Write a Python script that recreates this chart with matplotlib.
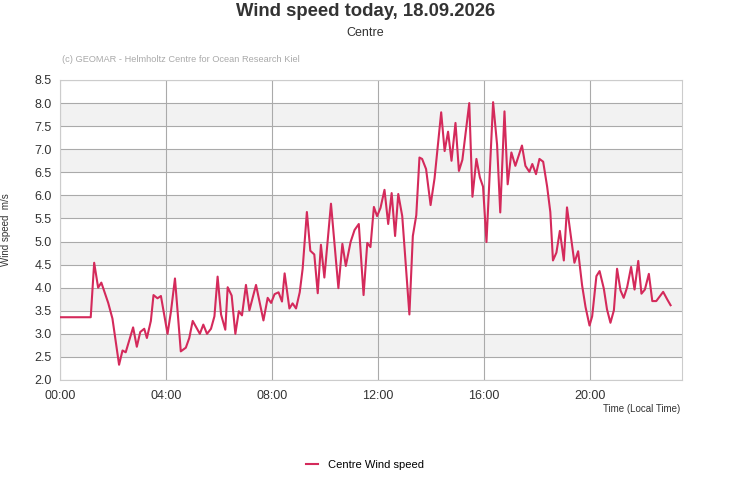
import numpy as np
import matplotlib
matplotlib.use('Agg')
import matplotlib.pyplot as plt
from matplotlib.ticker import FuncFormatter, MultipleLocator

plt.rcParams['font.family'] = ['Liberation Sans', 'DejaVu Sans']

# time of day in hours, wind speed in m/s
hours = [
	0.00, 1.16, 1.29, 1.44, 1.56, 1.82, 1.98, 2.23, 2.36, 2.48,
	2.76, 2.90, 3.03, 3.18, 3.28, 3.43, 3.53, 3.68, 3.81, 4.06,
	4.19, 4.34, 4.56, 4.75, 4.88, 5.01, 5.28, 5.41, 5.55, 5.70,
	5.83, 5.95, 6.08, 6.24, 6.33, 6.48, 6.62, 6.75, 6.87, 7.02,
	7.15, 7.40, 7.68, 7.84, 7.97, 8.10, 8.25, 8.38, 8.48, 8.66,
	8.78, 8.91, 9.05, 9.16, 9.32, 9.45, 9.60, 9.73, 9.85, 9.98,
	10.23, 10.51, 10.66, 10.79, 10.97, 11.12, 11.28, 11.46, 11.60, 11.72,
	11.85, 11.97, 12.10, 12.25, 12.39, 12.52, 12.65, 12.77, 12.92, 13.19,
	13.32, 13.45, 13.57, 13.67, 13.82, 13.99, 14.14, 14.39, 14.52, 14.65,
	14.78, 14.93, 15.06, 15.19, 15.45, 15.57, 15.72, 15.85, 15.97, 16.10,
	16.35, 16.50, 16.62, 16.78, 16.90, 17.04, 17.19, 17.44, 17.57, 17.72,
	17.83, 17.97, 18.10, 18.24, 18.39, 18.51, 18.61, 18.74, 18.87, 19.02,
	19.14, 19.29, 19.42, 19.56, 19.71, 19.84, 19.99, 20.09, 20.25, 20.37,
	20.53, 20.65, 20.78, 20.91, 21.03, 21.16, 21.28, 21.41, 21.56, 21.69,
	21.83, 21.95, 22.08, 22.23, 22.36, 22.51, 22.64, 22.77, 22.92, 23.05,
]
wind_speed = [
	3.36, 3.36, 4.54, 4.00, 4.11, 3.67, 3.33, 2.33, 2.64, 2.60,
	3.14, 2.72, 3.04, 3.11, 2.91, 3.28, 3.84, 3.77, 3.82, 3.00,
	3.49, 4.20, 2.62, 2.70, 2.91, 3.28, 3.00, 3.20, 3.00, 3.11,
	3.38, 4.24, 3.42, 3.09, 4.01, 3.83, 3.00, 3.49, 3.40, 4.06,
	3.51, 4.06, 3.29, 3.78, 3.67, 3.86, 3.90, 3.70, 4.31, 3.55,
	3.66, 3.55, 3.90, 4.41, 5.64, 4.80, 4.72, 3.88, 4.93, 4.22,
	5.82, 3.99, 4.95, 4.47, 4.99, 5.25, 5.38, 3.84, 4.97, 4.88,
	5.75, 5.55, 5.73, 6.12, 5.38, 6.05, 5.12, 6.03, 5.55, 3.42,
	5.12, 5.57, 6.82, 6.79, 6.57, 5.79, 6.37, 7.80, 6.96, 7.38,
	6.75, 7.57, 6.53, 6.77, 8.00, 5.97, 6.79, 6.39, 6.19, 4.99,
	8.02, 7.10, 5.63, 7.82, 6.24, 6.93, 6.64, 7.08, 6.64, 6.51,
	6.68, 6.46, 6.79, 6.73, 6.19, 5.64, 4.59, 4.76, 5.23, 4.59,
	5.74, 5.10, 4.54, 4.79, 4.05, 3.58, 3.18, 3.38, 4.25, 4.36,
	3.98, 3.53, 3.24, 3.51, 4.41, 3.94, 3.78, 4.01, 4.45, 3.96,
	4.58, 3.87, 3.96, 4.30, 3.71, 3.71, 3.81, 3.91, 3.75, 3.62,
]
x_ticks = [0, 4, 8, 12, 16, 20]

line_color = '#d42a5b'
text_color = '#333333'

fig = plt.figure(figsize=(7.31, 5.0), dpi=100)
ax = fig.add_axes([60 / 731, 1 - 380 / 500, 621.7 / 731, 300 / 500])

# alternating bands
for lo in np.arange(2.5, 8.0, 1.0):
	ax.axhspan(lo, lo + 0.5, color='#f2f2f2', zorder=0, lw=0)

ax.plot(hours, wind_speed, color=line_color, lw=1.5, zorder=3, label='Centre Wind speed')

ax.set_xlim(0, 23.47)
ax.set_ylim(2.0, 8.5)
ax.set_xticks(x_ticks)
ax.xaxis.set_major_formatter(FuncFormatter(lambda v, p: f'{int(v):02d}:00'))
ax.yaxis.set_major_locator(MultipleLocator(0.5))
ax.yaxis.set_major_formatter(FuncFormatter(lambda v, p: f'{v:.1f}'))
ax.tick_params(length=0, labelsize=9, labelcolor=text_color)
ax.tick_params(axis='y', pad=6)
ax.tick_params(axis='x', pad=7)
ax.grid(True, color='#aaaaaa', lw=0.8, zorder=1)
ax.set_axisbelow(True)
for s in ax.spines.values():
	s.set_color('#cccccc')
	s.set_linewidth(0.8)

fig.text(0.5, 1 - 12 / 500, 'Wind speed today, 18.09.2026', ha='center', va='center',
	fontsize=13.3, weight='bold', color=text_color)
fig.text(0.5, 1 - 33 / 500, 'Centre', ha='center', va='center', fontsize=9, color=text_color)
fig.text(62 / 731, 1 - 60 / 500, '(c) GEOMAR - Helmholtz Centre for Ocean Research Kiel',
	ha='left', va='center', fontsize=6.65, color='#aaaaaa')
fig.text(6 / 731, 1 - 230 / 500, 'Wind speed  m/s', rotation=90, ha='center', va='center',
	fontsize=7, color=text_color)
fig.text(680 / 731, 1 - 409 / 500, 'Time (Local Time)', ha='right', va='center',
	fontsize=7, color=text_color)

fig.legend(loc='center', bbox_to_anchor=(365 / 731, 1 - 465 / 500), frameon=False,
	fontsize=8, handlelength=1.0, handletextpad=0.9)

fig.savefig('out.png', dpi=100)
